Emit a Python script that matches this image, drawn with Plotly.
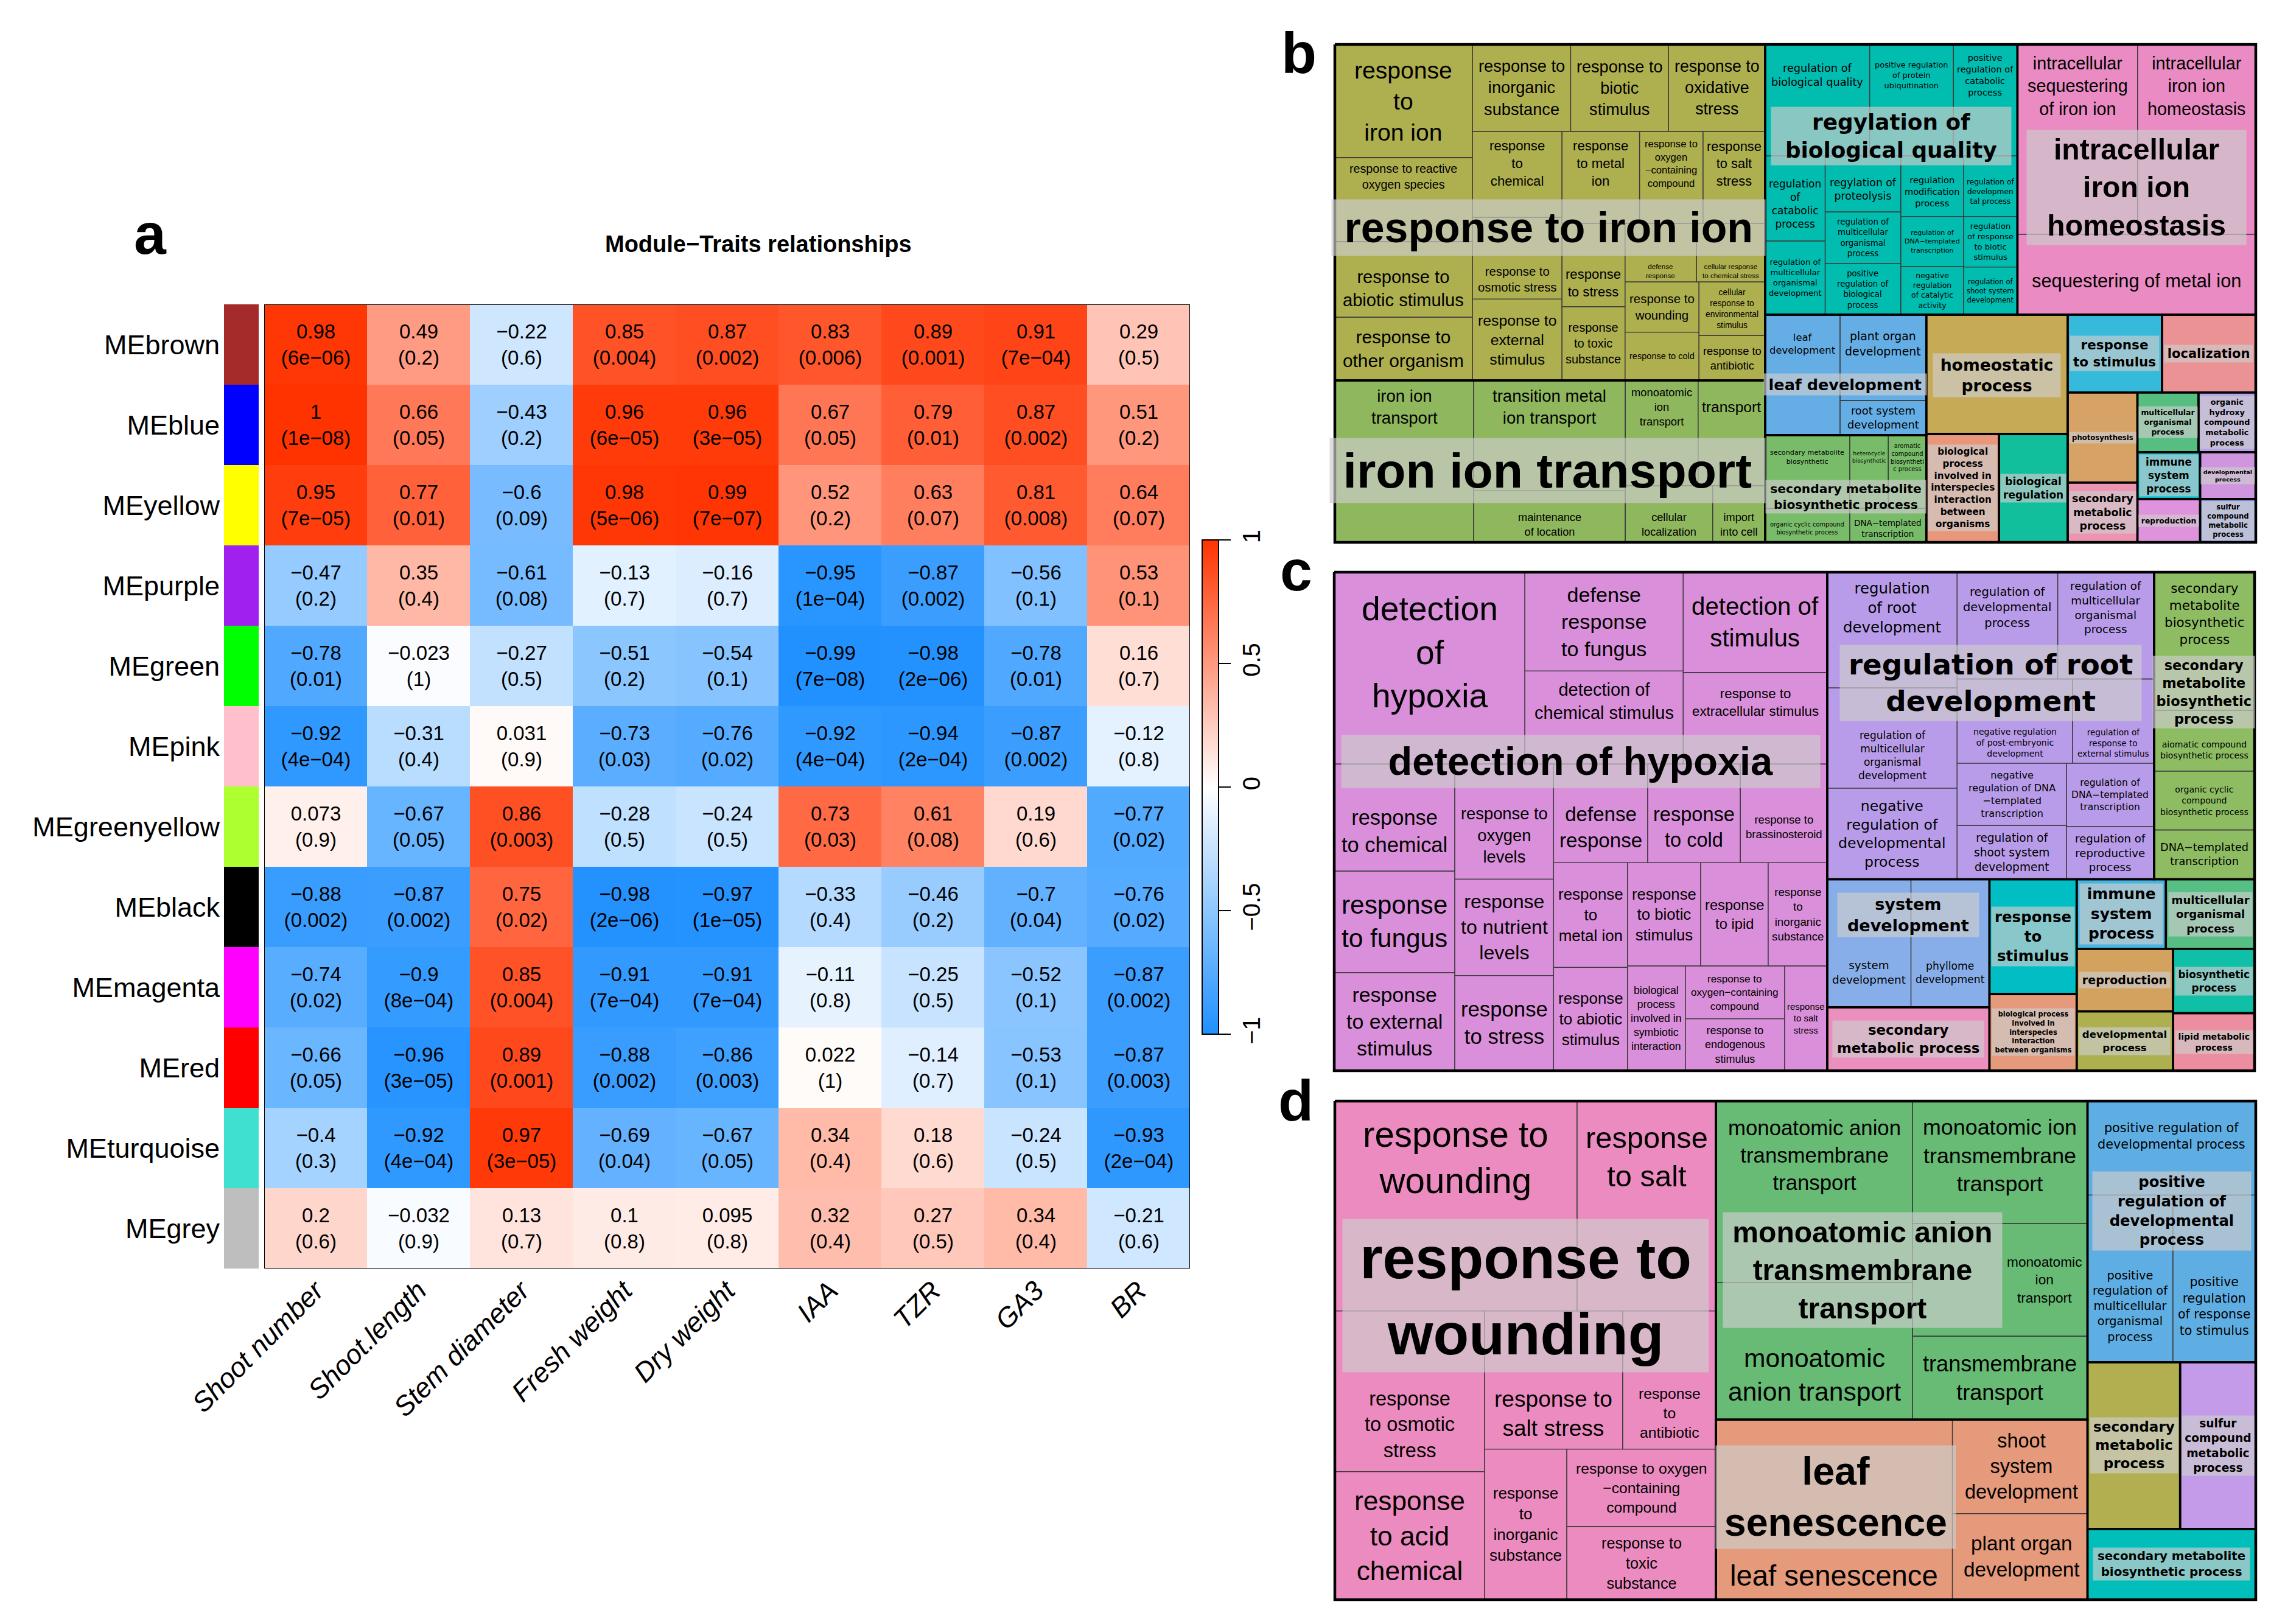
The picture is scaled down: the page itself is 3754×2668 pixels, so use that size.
import plotly.graph_objects as go

FIG_W, FIG_H = 3754, 2668
ARIAL = "Liberation Sans, Arial, Helvetica, sans-serif"
WIDEF = "DejaVu Sans, Verdana, sans-serif"

# ======================= Panel a : module-trait relationships =======================
modules = ["MEbrown", "MEblue", "MEyellow", "MEpurple", "MEgreen", "MEpink",
           "MEgreenyellow", "MEblack", "MEmagenta", "MEred", "MEturquoise", "MEgrey"]
module_colors = ["#A52A2A", "#0000FF", "#FFFF00", "#A020F0", "#00FF00", "#FFC0CB",
                 "#ADFF2F", "#000000", "#FF00FF", "#FF0000", "#40E0D0", "#BEBEBE"]
traits = ["Shoot number", "Shoot.length", "Stem diameter", "Fresh weight", "Dry weight",
          "IAA", "TZR", "GA3", "BR"]

r_brown = [0.98, 0.49, -0.22, 0.85, 0.87, 0.83, 0.89, 0.91, 0.29]
p_brown = [6e-06, 0.2, 0.6, 0.004, 0.002, 0.006, 0.001, 7e-04, 0.5]
r_blue = [1, 0.66, -0.43, 0.96, 0.96, 0.67, 0.79, 0.87, 0.51]
p_blue = [1e-08, 0.05, 0.2, 6e-05, 3e-05, 0.05, 0.01, 0.002, 0.2]
r_yellow = [0.95, 0.77, -0.6, 0.98, 0.99, 0.52, 0.63, 0.81, 0.64]
p_yellow = [7e-05, 0.01, 0.09, 5e-06, 7e-07, 0.2, 0.07, 0.008, 0.07]
r_purple = [-0.47, 0.35, -0.61, -0.13, -0.16, -0.95, -0.87, -0.56, 0.53]
p_purple = [0.2, 0.4, 0.08, 0.7, 0.7, 1e-04, 0.002, 0.1, 0.1]
r_green = [-0.78, -0.023, -0.27, -0.51, -0.54, -0.99, -0.98, -0.78, 0.16]
p_green = [0.01, 1, 0.5, 0.2, 0.1, 7e-08, 2e-06, 0.01, 0.7]
r_pink = [-0.92, -0.31, 0.031, -0.73, -0.76, -0.92, -0.94, -0.87, -0.12]
p_pink = [4e-04, 0.4, 0.9, 0.03, 0.02, 4e-04, 2e-04, 0.002, 0.8]
r_greenyellow = [0.073, -0.67, 0.86, -0.28, -0.24, 0.73, 0.61, 0.19, -0.77]
p_greenyellow = [0.9, 0.05, 0.003, 0.5, 0.5, 0.03, 0.08, 0.6, 0.02]
r_black = [-0.88, -0.87, 0.75, -0.98, -0.97, -0.33, -0.46, -0.7, -0.76]
p_black = [0.002, 0.002, 0.02, 2e-06, 1e-05, 0.4, 0.2, 0.04, 0.02]
r_magenta = [-0.74, -0.9, 0.85, -0.91, -0.91, -0.11, -0.25, -0.52, -0.87]
p_magenta = [0.02, 8e-04, 0.004, 7e-04, 7e-04, 0.8, 0.5, 0.1, 0.002]
r_red = [-0.66, -0.96, 0.89, -0.88, -0.86, 0.022, -0.14, -0.53, -0.87]
p_red = [0.05, 3e-05, 0.001, 0.002, 0.003, 1, 0.7, 0.1, 0.003]
r_turquoise = [-0.4, -0.92, 0.97, -0.69, -0.67, 0.34, 0.18, -0.24, -0.93]
p_turquoise = [0.3, 4e-04, 3e-05, 0.04, 0.05, 0.4, 0.6, 0.5, 2e-04]
r_grey = [0.2, -0.032, 0.13, 0.1, 0.095, 0.32, 0.27, 0.34, -0.21]
p_grey = [0.6, 0.9, 0.7, 0.8, 0.8, 0.4, 0.5, 0.4, 0.6]

colorbar_ticks = [-1, -0.5, 0, 0.5, 1]

# ======================= Panel b : GO treemap =======================
b_groups = ["response to iron ion", "iron ion transport", "regylation of\nbiological quality",
            "intracellular\niron ion\nhomeostasis", "leaf development",
            "secondary metabolite\nbiosynthetic process", "homeostatic\nprocess",
            "biological\nprocess\ninvolved in\ninterspecies\ninteraction\nbetween\norganisms",
            "biological\nregulation", "response\nto stimulus", "localization", "photosynthesis",
            "secondary\nmetabolic\nprocess", "multicellular\norganismal\nprocess",
            "organic\nhydroxy\ncompound\nmetabolic\nprocess", "immune\nsystem\nprocess",
            "reproduction", "developmental\nprocess", "sulfur\ncompound\nmetabolic\nprocess"]
b_terms = [
    ["response\nto\niron ion", "response to reactive\noxygen species", "response to\nabiotic stimulus",
     "response to\nother organism", "response to\ninorganic\nsubstance", "response to\nbiotic\nstimulus",
     "response to\noxidative\nstress", "response\nto\nchemical", "response to\nosmotic stress",
     "response to\nexternal\nstimulus", "response\nto metal\nion",
     "response to\noxygen\n−containing\ncompound", "response\nto salt\nstress", "response\nto stress",
     "response\nto toxic\nsubstance", "defense\nresponse", "cellular response\nto chemical stress",
     "response to\nwounding", "response to cold", "cellular\nresponse to\nenvironmental\nstimulus",
     "response to\nantibiotic"],
    ["iron ion\ntransport", "transition metal\nion transport", "maintenance\nof location",
     "monoatomic\nion\ntransport", "transport", "cellular\nlocalization", "import\ninto cell"],
    ["regulation of\nbiological quality", "positive regulation\nof protein\nubiquitination",
     "positive\nregulation of\ncatabolic\nprocess", "regulation\nof\ncatabolic\nprocess",
     "regulation of\nmulticellular\norganismal\ndevelopment", "regylation of\nproteolysis",
     "regulation of\nmulticellular\norganismal\nprocess", "positive\nregulation of\nbiological\nprocess",
     "regulation\nmodification\nprocess", "regulation of\ndevelopmen\ntal process",
     "regulation of\nDNA−templated\ntranscription", "negative\nregulation\nof catalytic\nactivity",
     "regulation\nof response\nto biotic\nstimulus", "regulation of\nshoot system\ndevelopment"],
    ["intracellular\nsequestering\nof iron ion", "intracellular\niron ion\nhomeostasis",
     "sequestering of metal ion"],
    ["leaf\ndevelopment", "plant organ\ndevelopment", "root system\ndevelopment"],
    ["secondary metabolite\nbiosynthetic", "organic cyclic compound\nbiosynthetic process",
     "heterocycle\nbiosynthetic", "aromatic\ncompound\nbiosyntheti\nc process",
     "DNA−templated\ntranscription"],
    ["homeostatic\nprocess"],
    ["biological\nprocess\ninvolved in\ninterspecies\ninteraction\nbetween\norganisms"],
    ["biological\nregulation"], ["response\nto stimulus"], ["localization"], ["photosynthesis"],
    ["secondary\nmetabolic\nprocess"], ["multicellular\norganismal\nprocess"],
    ["organic\nhydroxy\ncompound\nmetabolic\nprocess"], ["immune\nsystem\nprocess"],
    ["reproduction"], ["developmental\nprocess"], ["sulfur\ncompound\nmetabolic\nprocess"],
]
b_sizes = [
    [41850, 31050, 27900, 23400, 23000, 22900, 22600, 20700, 19700, 19600, 19200, 15700, 15400,
     14100, 12500, 11200, 10800, 10000, 9600, 9550, 8000],
    [60400, 45000, 21000, 20600, 19000, 13300, 8000],
    [31300, 25100, 19200, 13700, 11900, 11400, 10500, 10400, 10200, 8800, 8450, 8150, 7300, 6900],
    [61300, 60300, 51600],
    [24200, 19900, 8000],
    [16700, 7700, 7600, 7500, 7000],
    [45300], [21200], [20000], [19700], [19600], [16900], [11200], [9800], [9200], [7900],
    [7300], [7000], [6500],
]

# ======================= Panel c : GO treemap =======================
c_groups = ["detection of hypoxia", "regulation of root\ndevelopment",
            "secondary\nmetabolite\nbiosynthetic\nprocess", "system\ndevelopment",
            "secondary\nmetabolic process", "response\nto\nstimulus",
            "biological process\ninvolved in\ninterspecies\ninteraction\nbetween organisms",
            "immune\nsystem\nprocess", "multicellular\norganismal\nprocess", "reproduction",
            "developmental\nprocess", "biosynthetic\nprocess", "lipid metabolic\nprocess"]
c_terms = [
    ["detection\nof\nhypoxia", "defense\nresponse\nto fungus", "detection of\nchemical stimulus",
     "detection of\nstimulus", "response to\nextracellular stimulus", "response\nto chemical",
     "response\nto fungus", "response\nto external\nstimulus", "response to\noxygen\nlevels",
     "response\nto nutrient\nlevels", "response\nto stress", "defense\nresponse", "response\nto cold",
     "response to\nbrassinosteroid", "response\nto\nmetal ion", "response\nto abiotic\nstimulus",
     "response\nto biotic\nstimulus", "response\nto ipid", "response\nto\ninorganic\nsubstance",
     "biological\nprocess\ninvolved in\nsymbiotic\ninteraction",
     "response to\noxygen−containing\ncompound", "response to\nendogenous\nstimulus",
     "response\nto salt\nstress"],
    ["regulation\nof root\ndevelopment", "regulation of\nmulticellular\norganismal\ndevelopment",
     "negative\nregulation of\ndevelopmental\nprocess", "regulation of\ndevelopmental\nprocess",
     "regulation of\nmulticellular\norganismal\nprocess",
     "negative regulation\nof post-embryonic\ndevelopment",
     "regulation of\nresponse to\nexternal stimulus",
     "negative\nregulation of DNA\n−templated\ntranscription",
     "regulation of\nshoot system\ndevelopment", "regulation of\nDNA−templated\ntranscription",
     "regulation of\nreproductive\nprocess"],
    ["secondary\nmetabolite\nbiosynthetic\nprocess", "aiomatic compound\nbiosynthetic process",
     "organic cyclic\ncompound\nbiosynthetic process", "DNA−templated\ntranscription"],
    ["system\ndevelopment", "phyllome\ndevelopment"],
    ["secondary\nmetabolic process"], ["response\nto\nstimulus"],
    ["biological process\ninvolved in\ninterspecies\ninteraction\nbetween organisms"],
    ["immune\nsystem\nprocess"], ["multicellular\norganismal\nprocess"], ["reproduction"],
    ["developmental\nprocess"], ["biosynthetic\nprocess"], ["lipid metabolic\nprocess"],
]
c_sizes = [
    [98300, 42100, 39600, 38900, 35400, 34700, 32900, 31800, 30600, 25600, 25300, 25000, 24600,
     23100, 20800, 20500, 20300, 18700, 16400, 16300, 14100, 13900, 12000],
    [40400, 35000, 31800, 28900, 27700, 26100, 18500, 18300, 15800, 15000, 12400],
    [37300, 16400, 15900, 13300],
    [28800, 27000],
    [27700], [26900], [18000], [16700], [16600], [16200], [15400], [14100], [12600],
]

# ======================= Panel d : GO treemap =======================
d_groups = ["response to\nwounding", "monoatomic anion\ntransmembrane\ntransport",
            "leaf\nsenescence", "positive\nregulation of\ndevelopmental\nprocess",
            "secondary\nmetabolic\nprocess", "sulfur\ncompound\nmetabolic\nprocess",
            "secondary metabolite\nbiosynthetic process"]
d_terms = [
    ["response to\nwounding", "response\nto salt", "response\nto osmotic\nstress",
     "response\nto acid\nchemical", "response to\nsalt stress", "response\nto\nantibiotic",
     "response\nto\ninorganic\nsubstance", "response to oxygen\n−containing\ncompound",
     "response to\ntoxic\nsubstance"],
    ["monoatomic anion\ntransmembrane\ntransport", "monoatomic\nanion transport",
     "monoatomic ion\ntransmembrane\ntransport", "monoatomic\nion\ntransport",
     "transmembrane\ntransport"],
    ["leaf senescence", "shoot\nsystem\ndevelopment", "plant organ\ndevelopment"],
    ["positive regulation of\ndevelopmental process",
     "positive\nregulation of\nmulticellular\norganismal\nprocess",
     "positive\nregulation\nof response\nto stimulus"],
    ["secondary\nmetabolic\nprocess"], ["sulfur\ncompound\nmetabolic\nprocess"],
    ["secondary metabolite\nbiosynthetic process"],
]
d_sizes = [
    [136800, 78500, 64700, 51600, 51400, 34700, 33400, 31100, 29400],
    [96000, 72500, 57700, 53100, 39300],
    [114600, 34200, 31300],
    [42600, 38400, 37300],
    [41600], [34000], [32000],
]

# ----------------------- styles (kept apart from the data) -----------------------
b_colors = ["#AEAF4F", "#8FB75D", "#00BDB0", "#EA8BC3", "#64AEE5", "#78BC6A", "#C7AA55",
            "#E9977B", "#12BF9C", "#36BADB", "#EB9294", "#D6A265", "#EC94B1", "#56BE81",
            "#B7A1E8", "#00BDCA", "#DF93DC", "#CF95DF", "#9EAAEE"]
b_wide = [False, False, True, False, True, True] + [True] * 13
b_label_y = [0.545, 0.556, 0.34, 0.53, 0.58, 0.575, 0.51] + [0.5] * 12
b_label_x = [0.5] * 19
b_label_fill = [0.95, 0.95, 0.84, 0.75, 0.95, 0.94, 0.8] + [0.88] * 12
b_label_box = [0.98, 0.98, 0.95, 0.92, 0.96, 0.95, 0.9] + [0.93] * 12
c_colors = ["#DA8FDA", "#B89CEA", "#8EBC62", "#88AEEA", "#EB90BE", "#00BEC4", "#E59B7B",
            "#48B5E1", "#57BE84", "#D2A25E", "#AEB04F", "#0FBFA6", "#EC8E9F"]
c_wide = [False] + [True] * 12
c_label_y = [0.38, 0.36, 0.39, 0.28] + [0.5] * 9
c_label_x = [0.5] * 13
c_label_fill = [0.78, 0.87, 0.95, 0.75] + [0.88] * 9
c_label_box = [0.97, 0.86, 0.97, 0.87] + [0.93] * 9
d_colors = ["#EC8BBF", "#67BB74", "#E49A7B", "#5FAEE3", "#B2AF50", "#C39BE8", "#00BEBA"]
d_wide = [False, False, False, True, True, True, True]
d_label_y = [0.39, 0.53, 0.43, 0.42, 0.5, 0.5, 0.5]
d_label_x = [0.5, 0.395, 0.316, 0.5, 0.5, 0.5, 0.5]
d_label_fill = [0.87, 0.70, 0.60, 0.74, 0.88, 0.88, 0.88]
d_label_box = [0.96, 0.75, 0.62, 0.94, 0.93, 0.93, 0.93]

# approximate glyph advance widths (em) for label fitting
_lc = "abcdefghijklmnopqrstuvwxyz"
_uc = "ABCDEFGHIJKLMNOPQRSTUVWXYZ"


def _tab(lc, uc, extra):
    t = dict(zip(_lc, lc))
    t.update(zip(_uc, uc))
    t.update(extra)
    return t


FONT_TABLES = {
    (False, False): _tab(
        [.556, .556, .5, .556, .556, .278, .556, .556, .222, .222, .5, .222, .833, .556, .556, .556,
         .556, .333, .5, .278, .556, .5, .722, .5, .5, .5],
        [.667, .667, .722, .722, .667, .611, .778, .722, .278, .5, .667, .556, .833, .722, .778, .667,
         .778, .722, .667, .611, .722, .667, .944, .667, .667, .611],
        {" ": .278, "-": .333, "−": .584, ".": .278, "(": .333, ")": .333}),
    (False, True): _tab(
        [.556, .611, .556, .611, .556, .333, .611, .611, .278, .278, .556, .278, .889, .611, .611, .611,
         .611, .389, .556, .333, .611, .556, .778, .556, .556, .5],
        [.722, .722, .722, .722, .667, .611, .778, .722, .278, .556, .722, .611, .833, .722, .778, .667,
         .778, .722, .667, .611, .722, .667, .944, .667, .667, .611],
        {" ": .278, "-": .333, "−": .584, ".": .278, "(": .333, ")": .333}),
    (True, False): _tab(
        [.613, .635, .550, .635, .615, .352, .635, .634, .278, .278, .579, .278, .974, .634, .612, .635,
         .635, .411, .521, .392, .634, .592, .818, .592, .592, .525],
        [.684, .686, .698, .770, .632, .575, .775, .752, .295, .295, .656, .557, .863, .748, .787, .603,
         .787, .695, .635, .611, .732, .684, .989, .685, .611, .685],
        {" ": .318, "-": .361, "−": .838, ".": .318, "(": .390, ")": .390}),
    (True, True): _tab(
        [.675, .716, .593, .716, .678, .435, .716, .712, .343, .343, .665, .343, 1.042, .712, .687, .716,
         .716, .493, .595, .478, .712, .652, .924, .645, .652, .582],
        [.774, .762, .734, .830, .683, .683, .821, .837, .372, .372, .775, .637, .995, .837, .850, .733,
         .850, .770, .720, .682, .812, .774, 1.103, .771, .724, .725],
        {" ": .348, "-": .415, "−": .838, ".": .380, "(": .457, ")": .457}),
}
LINE_H = 1.3


def line_em(s, wide, bold):
    tab = FONT_TABLES[(wide, bold)]
    return sum(tab.get(ch, 0.6) for ch in s)


def fit_size(lines, w, h, wide, bold, fw, fh):
    mw = max(line_em(l, wide, bold) for l in lines)
    return max(0.0, min(fw * w / mw, fh * h / (len(lines) * LINE_H)))


def pivot_layout(items, x, y, w, h, out):
    """Ordered treemap, pivot-by-size (items sorted by decreasing size)."""
    if not items:
        return
    if len(items) == 1:
        out[items[0][0]] = (x, y, w, h)
        return
    total = float(sum(v for _, v in items))
    pk, pv = items[0]
    rest = items[1:]
    wide = w >= h
    best_k, best_ar, acc = 0, None, pv
    for k in range(len(rest) + 1):
        if k > 0:
            acc += rest[k - 1][1]
        if wide:
            cw = w * acc / total
            ph = h * pv / acc
            ar = max(cw / ph, ph / cw)
        else:
            rh = h * acc / total
            pw = w * pv / acc
            ar = max(pw / rh, rh / pw)
        if best_ar is None or ar < best_ar - 1e-12:
            best_ar, best_k = ar, k
    L2, L3 = rest[:best_k], rest[best_k:]
    s = pv + sum(v for _, v in L2)
    if wide:
        cw = w * s / total
        ph = h * pv / s
        out[pk] = (x, y, cw, ph)
        pivot_layout(L2, x, y + ph, cw, h - ph, out)
        pivot_layout(L3, x + cw, y, w - cw, h, out)
    else:
        rh = h * s / total
        pw = w * pv / s
        out[pk] = (x, y, pw, rh)
        pivot_layout(L2, x + pw, y, w - pw, rh, out)
        pivot_layout(L3, x, y + rh, w, h - rh, out)


fig = go.Figure()
annotations = []

# ----------------------- heatmap (panel a) -----------------------
R = [r_brown, r_blue, r_yellow, r_purple, r_green, r_pink, r_greenyellow, r_black,
     r_magenta, r_red, r_turquoise, r_grey]
P = [p_brown, p_blue, p_yellow, p_purple, p_green, p_pink, p_greenyellow, p_black,
     p_magenta, p_red, p_turquoise, p_grey]


def fmt_r(v):
    return f"{v:g}".replace("-", "−")


def fmt_p(p):
    s = f"{p:.0e}" if p < 1e-3 else f"{p:g}"
    return s.replace("-", "−")


cell_text = [[f"{fmt_r(R[i][j])}<br>({fmt_p(P[i][j])})" for j in range(len(traits))]
             for i in range(len(modules))]

fig.add_trace(go.Heatmap(
    z=R, x=list(range(len(traits))), y=list(range(len(modules))),
    zmin=-1, zmax=1,
    colorscale=[[0, "#1E90FF"], [0.5, "#FFFFFF"], [1, "#FF3300"]],
    text=cell_text, texttemplate="%{text}",
    textfont=dict(size=33, family=ARIAL, color="black"),
    hoverinfo="skip", xaxis="x", yaxis="y",
    colorbar=dict(x=1967 / FIG_W, xanchor="left", xpad=0, y=1 - 1285 / FIG_H, yanchor="middle",
                  len=812 / FIG_H, lenmode="fraction", ypad=0, thickness=27, thicknessmode="pixels",
                  outlinewidth=2, outlinecolor="black", ticks="outside", ticklen=19, tickwidth=2,
                  tickcolor="black", tickvals=colorbar_ticks,
                  ticktext=[fmt_r(t) for t in colorbar_ticks], tickangle=-90,
                  tickfont=dict(size=40, family=ARIAL, color="black")),
))
fig.add_trace(go.Heatmap(
    z=[[i] for i in range(len(modules))], x=[0], y=list(range(len(modules))),
    zmin=0, zmax=len(modules) - 1,
    colorscale=[[i / (len(modules) - 1), c] for i, c in enumerate(module_colors)],
    showscale=False, hoverinfo="skip", xaxis="x2", yaxis="y",
))

hx0, hx1, hy0, hy1 = 426, 1947, 492, 2076
fig.update_layout(
    xaxis=dict(domain=[hx0 / FIG_W, hx1 / FIG_W], range=[-0.5, len(traits) - 0.5],
               tickvals=list(range(len(traits))), ticktext=traits, tickangle=-45, ticks="",
               tickfont=dict(size=45, family=ARIAL, color="black", style="italic"),
               ticklabelstandoff=0,
               showgrid=False, zeroline=False, showline=False, anchor="y", fixedrange=True,
               automargin=False),
    yaxis=dict(domain=[1 - hy1 / FIG_H, 1 - hy0 / FIG_H], range=[len(modules) - 0.5, -0.5],
               tickvals=list(range(len(modules))), ticktext=modules, ticks="",
               tickfont=dict(size=45, family=ARIAL, color="black"), ticklabelstandoff=6,
               showgrid=False, zeroline=False, showline=False, anchor="x2", fixedrange=True,
               automargin=False),
    xaxis2=dict(domain=[360 / FIG_W, 417 / FIG_W], range=[-0.5, 0.5], visible=False,
                anchor="y", fixedrange=True, automargin=False),
)
fig.add_shape(type="rect", xref="x", yref="y", x0=-0.5, x1=len(traits) - 0.5,
              y0=-0.5, y1=len(modules) - 0.5, line=dict(color="black", width=2))

annotations.append(dict(text="<b>Module−Traits relationships</b>", x=1238 / FIG_W, y=1 - 393 / FIG_H,
                        xref="paper", yref="paper", showarrow=False, xanchor="center",
                        yanchor="middle", font=dict(size=38, family=ARIAL, color="black")))
for letter, (lx, ly) in zip("abcd", [(239, 376), (2126, 79), (2121, 929), (2121, 1800)]):
    annotations.append(dict(text=f"<b>{letter}</b>", x=lx / FIG_W, y=1 - ly / FIG_H, xref="paper",
                            yref="paper", showarrow=False, xanchor="center", yanchor="middle",
                            font=dict(size=95, family=ARIAL, color="black")))

# ----------------------- treemaps (panels b, c, d) -----------------------
child_anns, group_anns = [], []


def norm(s):
    return " ".join(s.split())


def draw_treemap(idx, box, groups, terms, sizes, colors, wide_flags, label_x, label_y, label_fill,
                 label_box):
    xa, ya = f"x{idx}", f"y{idx}"
    x0, y0, x1, y1 = box
    W, H = x1 - x0, y1 - y0
    pad = 5
    fig.update_layout({
        f"xaxis{idx}": dict(domain=[(x0 - pad) / FIG_W, (x1 + pad) / FIG_W], range=[-pad, W + pad],
                            visible=False, fixedrange=True, anchor=ya, automargin=False),
        f"yaxis{idx}": dict(domain=[1 - (y1 + pad) / FIG_H, 1 - (y0 - pad) / FIG_H],
                            range=[H + pad, -pad], visible=False, fixedrange=True, anchor=xa,
                            automargin=False),
    })
    gtot = [sum(s) for s in sizes]
    grect = {}
    pivot_layout(sorted(enumerate(gtot), key=lambda t: -t[1]), 0, 0, W, H, grect)
    bxs, bys = [], []
    for g in range(len(groups)):
        gx, gy, gw, gh = grect[g]
        wide = wide_flags[g]
        fam = WIDEF if wide else ARIAL
        crect = {}
        pivot_layout(sorted(enumerate(sizes[g]), key=lambda t: -t[1]), gx, gy, gw, gh, crect)
        xs, ys = [], []
        for c in range(len(terms[g])):
            cx, cy, cw, ch = crect[c]
            xs += [cx, cx + cw, cx + cw, cx, cx, None]
            ys += [cy, cy, cy + ch, cy + ch, cy, None]
        fig.add_trace(go.Scatter(x=xs, y=ys, xaxis=xa, yaxis=ya, mode="lines", fill="toself",
                                 fillcolor=colors[g], line=dict(color="#3c3c3c", width=1.3),
                                 hoverinfo="skip", showlegend=False))
        bxs += [gx, gx + gw, gx + gw, gx, gx, None]
        bys += [gy, gy, gy + gh, gy + gh, gy, None]

        # group label (bold, on translucent grey box)
        glines = groups[g].split("\n")
        gfs = max(4.0, fit_size(glines, gw, gh, wide, True, label_fill[g], 0.85))
        gpad = max(2.0, 0.1 * gfs)
        text_w = max(line_em(l, wide, True) for l in glines) * gfs * 1.04
        inner_w = max(text_w, label_box[g] * gw - 2 * gpad)
        bw = inner_w + 2 * gpad
        bh = len(glines) * LINE_H * gfs + 2 * gpad
        gcx = gx + gw * label_x[g]
        gcx = min(max(gcx, gx + bw / 2), gx + gw - bw / 2)
        gcy = gy + gh * label_y[g]
        gcy = min(max(gcy, gy + bh / 2), gy + gh - bh / 2)
        band = (gcx - bw / 2, gcy - bh / 2, gcx + bw / 2, gcy + bh / 2)
        group_anns.append(dict(text="<b>" + "<br>".join(glines) + "</b>", x=gcx, y=gcy,
                               xref=xa, yref=ya, showarrow=False, xanchor="center",
                               yanchor="middle", align="center", width=inner_w,
                               bgcolor="rgba(204,204,204,0.67)",
                               borderpad=gpad, font=dict(size=gfs, family=fam, color="black")))

        # term labels, placed in the part of the tile not hidden by the group label
        for c in range(len(terms[g])):
            if len(terms[g]) == 1 and norm(terms[g][c]) == norm(groups[g]):
                continue
            cx, cy, cw, ch = crect[c]
            lines = terms[g][c].split("\n")
            bx0, by0, bx1, by1 = band
            cands = []
            if not (bx1 <= cx or bx0 >= cx + cw or by1 <= cy or by0 >= cy + ch):
                if by0 > cy:
                    cands.append((cx, cy, cw, by0 - cy))
                if by1 < cy + ch:
                    cands.append((cx, by1, cw, cy + ch - by1))
                if bx0 > cx:
                    cands.append((cx, cy, bx0 - cx, ch))
                if bx1 < cx + cw:
                    cands.append((bx1, cy, cx + cw - bx1, ch))
                if not cands:
                    cands = [(cx, cy, cw, ch)]
            else:
                cands = [(cx, cy, cw, ch)]
            best = max(cands, key=lambda r: fit_size(lines, r[2], r[3], wide, False, 0.88, 0.82))
            fs = max(4.0, fit_size(lines, best[2], best[3], wide, False, 0.88, 0.82))
            child_anns.append(dict(text="<br>".join(lines), x=best[0] + best[2] / 2,
                                   y=best[1] + best[3] / 2, xref=xa, yref=ya, showarrow=False,
                                   xanchor="center", yanchor="middle", align="center",
                                   font=dict(size=fs, family=fam, color="black")))
    fig.add_trace(go.Scatter(x=bxs, y=bys, xaxis=xa, yaxis=ya, mode="lines",
                             line=dict(color="black", width=3.5), hoverinfo="skip", showlegend=False))
    fig.add_trace(go.Scatter(x=[0, W, W, 0, 0], y=[0, 0, H, H, 0], xaxis=xa, yaxis=ya, mode="lines",
                             line=dict(color="black", width=4.5), hoverinfo="skip", showlegend=False))


draw_treemap(3, (2185, 65, 3698, 883), b_groups, b_terms, b_sizes, b_colors, b_wide,
             b_label_x, b_label_y, b_label_fill, b_label_box)
draw_treemap(4, (2184, 932, 3696, 1751), c_groups, c_terms, c_sizes, c_colors, c_wide,
             c_label_x, c_label_y, c_label_fill, c_label_box)
draw_treemap(5, (2185, 1801, 3698, 2620), d_groups, d_terms, d_sizes, d_colors, d_wide,
             d_label_x, d_label_y, d_label_fill, d_label_box)

fig.update_layout(
    width=FIG_W, height=FIG_H, margin=dict(l=0, r=0, t=0, b=0, autoexpand=False),
    paper_bgcolor="white", plot_bgcolor="white", showlegend=False, hovermode=False,
    font=dict(family=ARIAL, color="black"),
    annotations=annotations + child_anns + group_anns,
)

fig.write_html("out.html", config={"displayModeBar": False})
